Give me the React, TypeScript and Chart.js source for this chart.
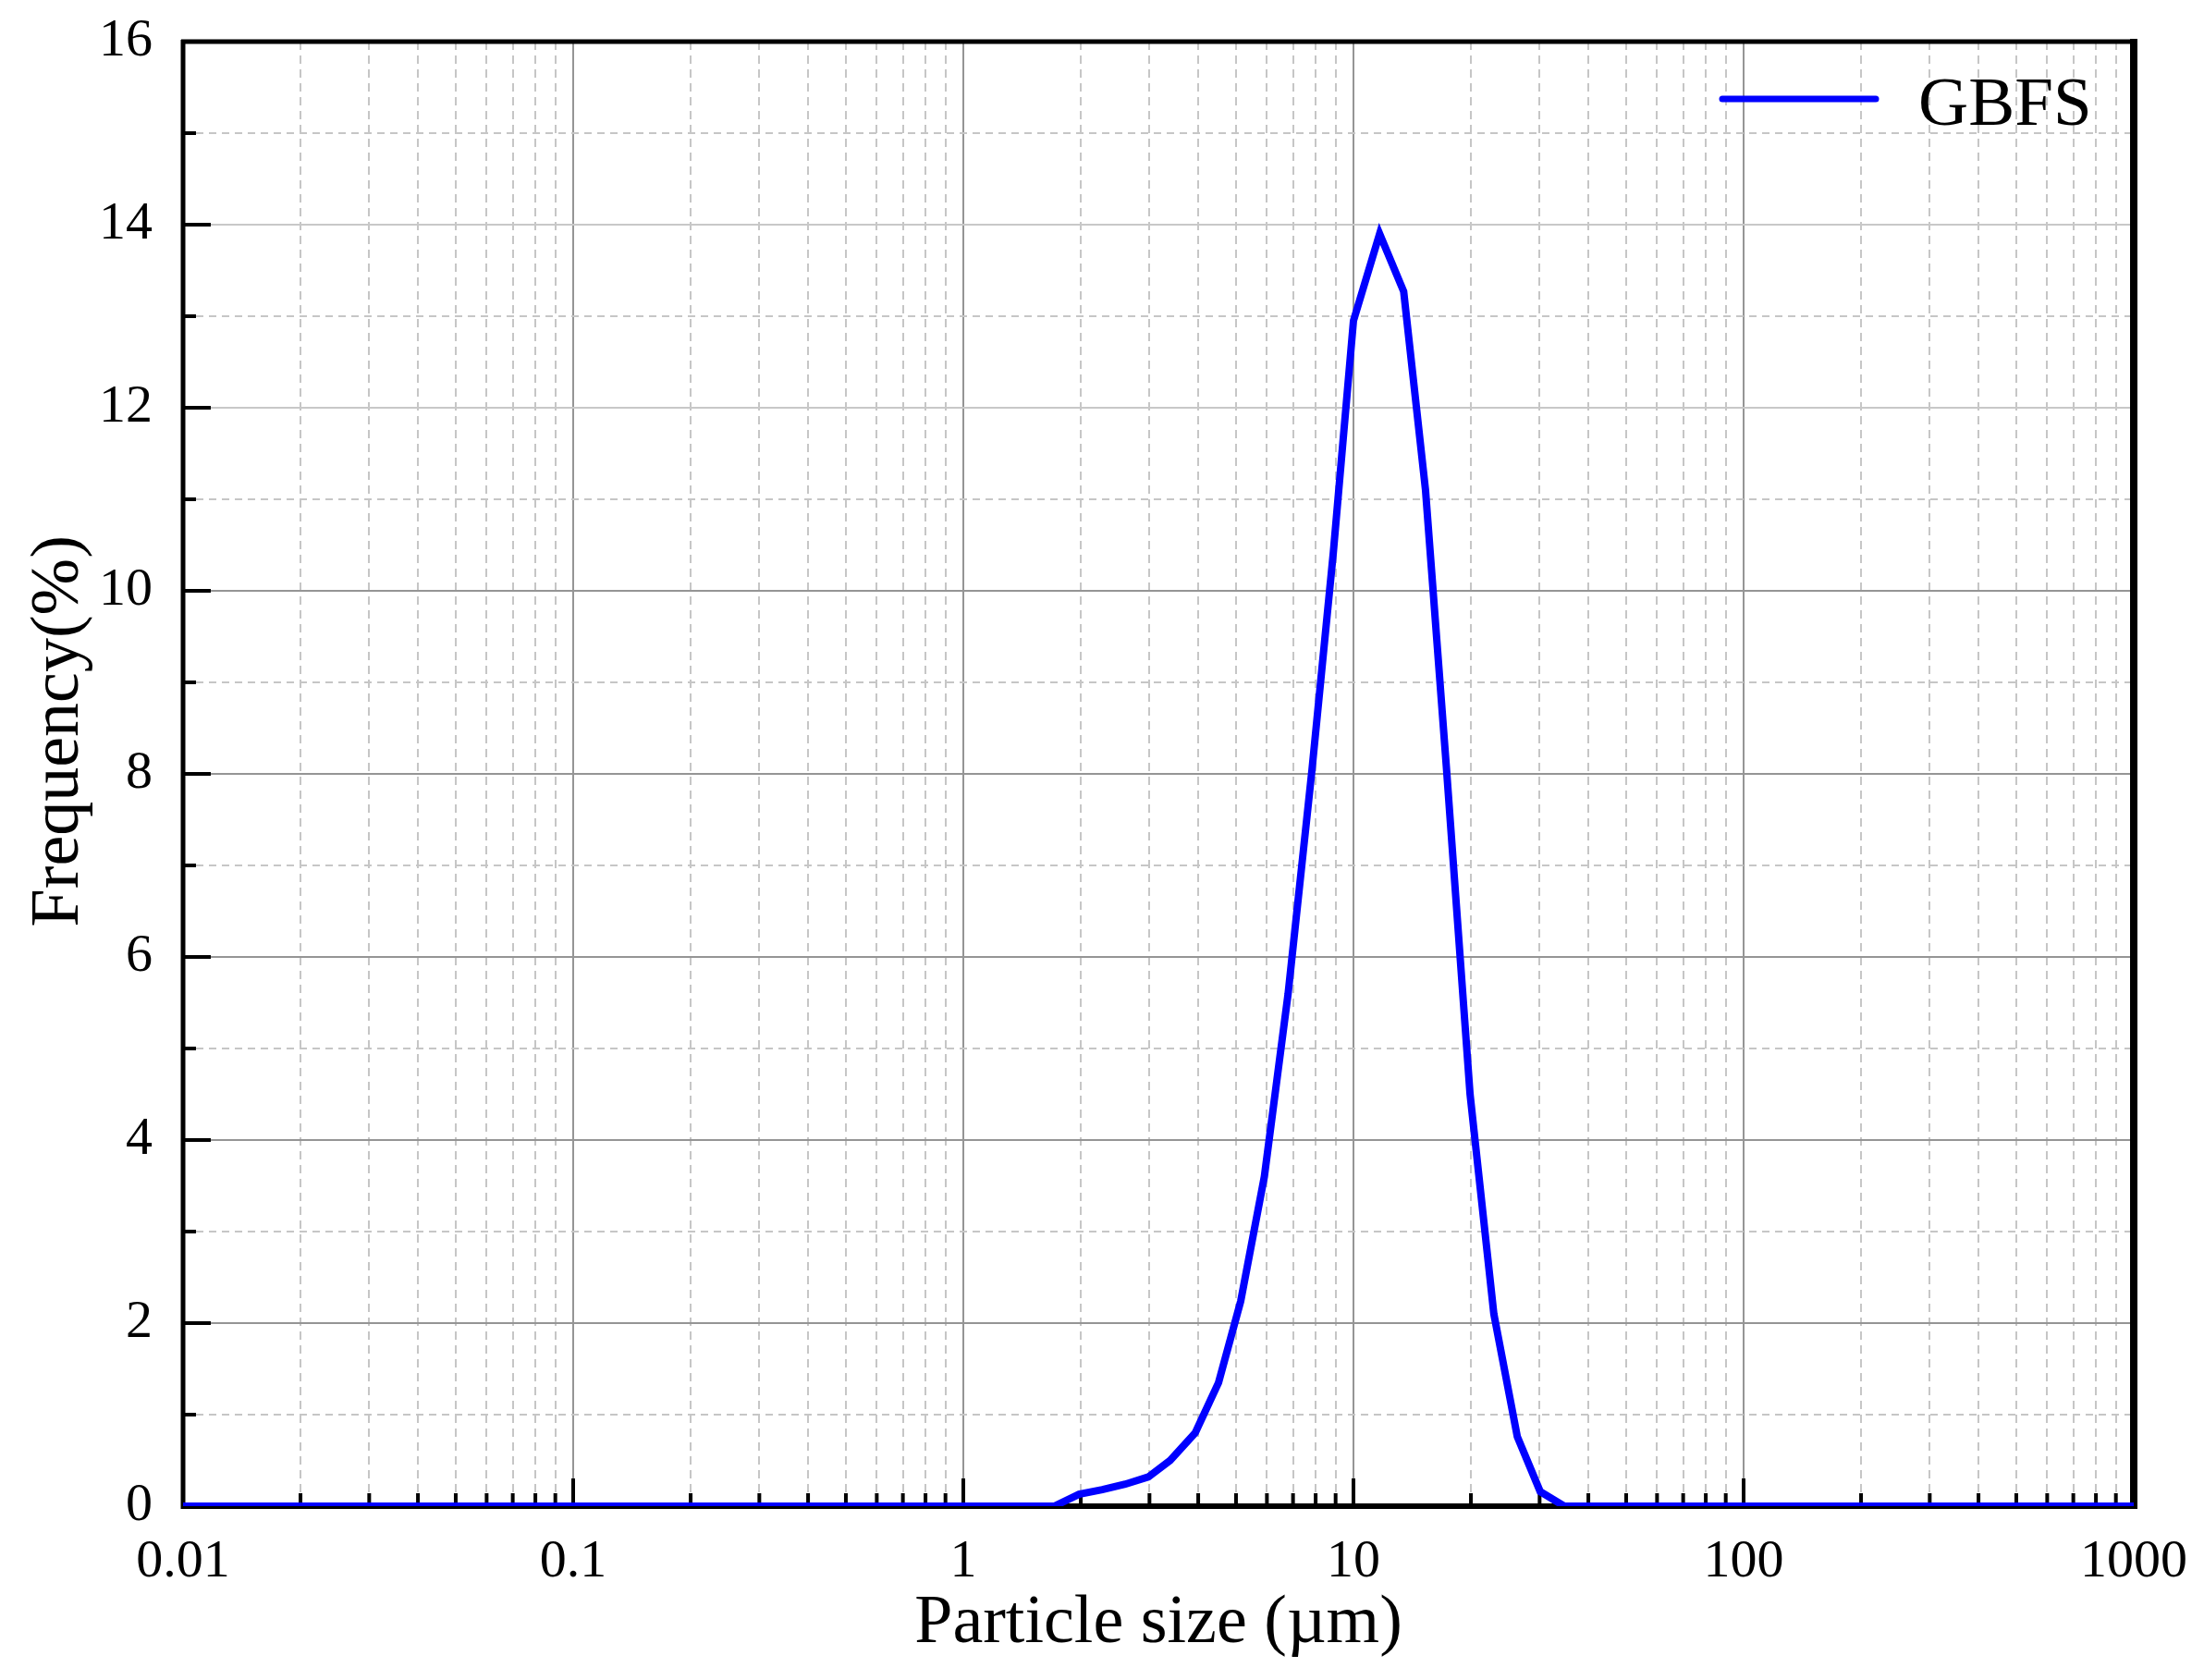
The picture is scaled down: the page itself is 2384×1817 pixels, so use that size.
import React, { useEffect, useRef } from 'react';
import { Chart, registerables } from 'chart.js';

Chart.register(...registerables);

// particle size (µm) and frequency (%)
const particleSizes = [
  0.01, 1.71, 1.98, 2.27, 2.6, 2.98, 3.39, 3.93, 4.51, 5.14, 5.91, 6.8, 7.83,
  8.88, 10.0, 11.67, 13.45, 15.3, 17.3, 19.9, 22.9, 26.3, 30.1, 34.7, 1000,
];
const frequencies = [
  0, 0, 0.13, 0.18, 0.24, 0.32, 0.5, 0.8, 1.35, 2.24, 3.6, 5.6, 8.05,
  10.42, 12.95, 13.9, 13.27, 11.1, 8.08, 4.5, 2.1, 0.76, 0.16, 0, 0,
];
const seriesLabel = 'GBFS';

const xDecades = [0.01, 0.1, 1, 10, 100, 1000];
const xTickLabels = ['0.01', '0.1', '1', '10', '100', '1000'];
const yMin = 0;
const yMax = 16;

const FONT = '"Liberation Serif", "Times New Roman", serif';

const isDecade = (v?: number) =>
  v !== undefined && Math.abs(Math.log10(v) - Math.round(Math.log10(v))) < 1e-6;

// inward tick marks and the black frame, drawn under the data line
const framePlugin = {
  id: 'frame',
  beforeDatasetsDraw(chart: any) {
    const { ctx, chartArea, scales } = chart;
    const { left, right, top, bottom } = chartArea;
    ctx.save();
    ctx.strokeStyle = '#000';
    ctx.lineCap = 'butt';
    ctx.lineWidth = 4;
    scales.x.ticks.forEach((t: any) => {
      const px = scales.x.getPixelForValue(t.value);
      const len = isDecade(t.value) ? 30 : 14;
      ctx.beginPath();
      ctx.moveTo(px, bottom);
      ctx.lineTo(px, bottom - len);
      ctx.stroke();
    });
    scales.y.ticks.forEach((t: any) => {
      const py = scales.y.getPixelForValue(t.value);
      const len = t.value % 2 === 0 ? 30 : 14;
      ctx.beginPath();
      ctx.moveTo(left, py);
      ctx.lineTo(left + len, py);
      ctx.stroke();
    });
    const seg = (w: number, x1: number, y1: number, x2: number, y2: number) => {
      ctx.lineWidth = w;
      ctx.beginPath();
      ctx.moveTo(x1, y1);
      ctx.lineTo(x2, y2);
      ctx.stroke();
    };
    seg(5, left - 2, top, right, top);
    seg(8, right, top - 3, right, bottom + 3);
    seg(6, left - 2, bottom, right, bottom);
    seg(5, left, top - 2, left, bottom + 3);
    ctx.restore();
  },
};

// legend line + label in the upper right corner of the plot
const insideLegendPlugin = {
  id: 'insideLegend',
  afterDraw(chart: any) {
    const { ctx, chartArea } = chart;
    const ds = chart.data.datasets[0];
    const { right, top } = chartArea;
    ctx.save();
    ctx.strokeStyle = ds.borderColor;
    ctx.lineWidth = 7;
    ctx.lineCap = 'round';
    ctx.beginPath();
    ctx.moveTo(right - 445, top + 62);
    ctx.lineTo(right - 279, top + 62);
    ctx.stroke();
    ctx.fillStyle = '#000';
    ctx.font = `75px ${FONT}`;
    ctx.textAlign = 'left';
    ctx.textBaseline = 'middle';
    ctx.fillText(ds.label, right - 233, top + 70);
    ctx.restore();
  },
};

const App: React.FC = () => {
  const canvasRef = useRef<HTMLCanvasElement>(null);
  const chartRef = useRef<Chart>();

  useEffect(() => {
    document.body.style.margin = '0';
    const ctx = canvasRef.current?.getContext('2d');
    if (!ctx) return;
    if (chartRef.current) chartRef.current.destroy();

    chartRef.current = new Chart(ctx, {
      type: 'line',
      data: {
        datasets: [
          {
            label: seriesLabel,
            data: particleSizes.map((x, i) => ({ x, y: frequencies[i] })),
            borderColor: '#0000ff',
            backgroundColor: '#0000ff',
            borderWidth: 8,
            pointRadius: 0,
            tension: 0,
            fill: false,
          },
        ],
      },
      options: {
        animation: false,
        responsive: true,
        maintainAspectRatio: false,
        layout: { padding: { top: 45, right: 76, left: 0, bottom: 0 } },
        plugins: {
          tooltip: { enabled: false },
          legend: { display: false },
        },
        scales: {
          x: {
            type: 'logarithmic',
            min: xDecades[0],
            max: xDecades[xDecades.length - 1],
            afterBuildTicks: (scale: any) => {
              const ticks: { value: number }[] = [];
              for (let d = 0; d < xDecades.length - 1; d++) {
                for (let s = 1; s <= 9; s++) ticks.push({ value: xDecades[d] * s });
              }
              ticks.push({ value: xDecades[xDecades.length - 1] });
              scale.ticks = ticks;
            },
            afterFit: (scale: any) => {
              scale.height = 188;
              scale.paddingLeft = 0;
              scale.paddingRight = 0;
            },
            ticks: {
              autoSkip: false,
              maxRotation: 0,
              padding: 26,
              color: '#000',
              font: { family: FONT, size: 58 },
              callback: (value: any) => {
                const i = xDecades.findIndex((d) => Math.abs(d - Number(value)) < d * 1e-6);
                return i >= 0 ? xTickLabels[i] : '';
              },
            },
            grid: {
              drawTicks: false,
              lineWidth: 2,
              color: (c: any) => (isDecade(c.tick?.value) ? '#959595' : '#c6c6c6'),
            },
            border: {
              display: false,
              dash: (c: any) => (c.tick && !isDecade(c.tick.value) ? [9, 6] : []),
            },
            title: {
              display: true,
              text: 'Particle size (µm)',
              color: '#000',
              font: { family: FONT, size: 74, lineHeight: 1.2 },
              padding: { top: 0, bottom: 16 },
            },
          },
          y: {
            min: yMin,
            max: yMax,
            afterFit: (scale: any) => {
              scale.width = 198;
              scale.paddingTop = 0;
              scale.paddingBottom = 0;
            },
            ticks: {
              stepSize: 1,
              autoSkip: false,
              padding: 33,
              color: '#000',
              font: { family: FONT, size: 58 },
              callback: (value: any) => (Number(value) % 2 === 0 ? String(value) : ''),
            },
            grid: {
              drawTicks: false,
              lineWidth: 2,
              color: (c: any) => {
                const v = c.tick?.value;
                if (v === undefined) return '#959595';
                if (v % 2 !== 0) return '#c6c6c6';
                return v >= 12 ? '#c8c8c8' : '#959595';
              },
            },
            border: {
              display: false,
              dash: (c: any) => (c.tick && c.tick.value % 2 !== 0 ? [8, 6] : []),
            },
            title: {
              display: true,
              text: '     Frequency(%)',
              color: '#000',
              font: { family: FONT, size: 74, lineHeight: 1.2 },
              padding: { top: 20, bottom: 0 },
            },
          },
        },
      },
      plugins: [framePlugin, insideLegendPlugin],
    } as any);

    return () => {
      if (chartRef.current) {
        chartRef.current.destroy();
        chartRef.current = undefined;
      }
    };
  }, []);

  return (
    <div style={{ position: 'relative', width: 2384, height: 1817, background: '#fff' }}>
      <canvas ref={canvasRef}></canvas>
    </div>
  );
};

export default App;
